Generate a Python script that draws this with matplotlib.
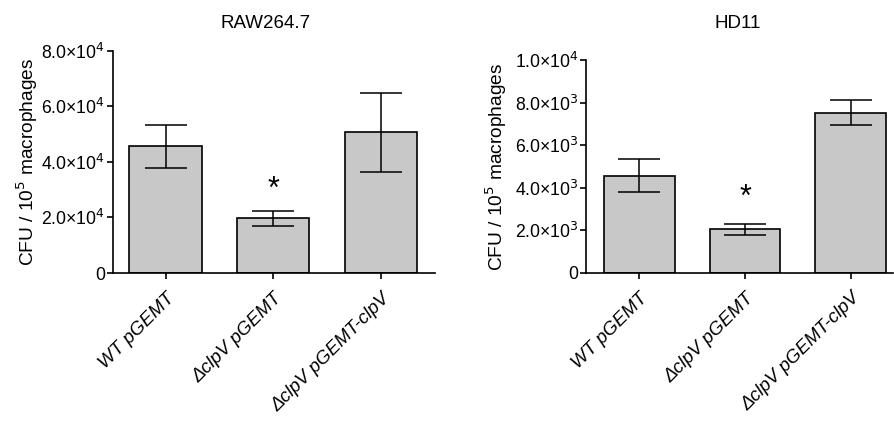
import numpy as np
import matplotlib.pyplot as plt

plt.rcParams["font.family"] = ["Liberation Sans", "DejaVu Sans"]

strains = ["WT pGEMT", "\u0394clpV pGEMT", "\u0394clpV pGEMT-clpV"]

raw_mean = [4.56e4, 1.97e4, 5.06e4]
raw_err = [0.77e4, 0.27e4, 1.43e4]

hd_mean = [4560, 2040, 7540]
hd_err = [770, 265, 570]

raw_ticks = [0, 2e4, 4e4, 6e4, 8e4]
raw_ticklabels = ["0", "2.0\u00d710$^4$", "4.0\u00d710$^4$", "6.0\u00d710$^4$", "8.0\u00d710$^4$"]
hd_ticks = [0, 2e3, 4e3, 6e3, 8e3, 1e4]
hd_ticklabels = ["0", "2.0\u00d710$^3$", "4.0\u00d710$^3$", "6.0\u00d710$^3$",
                 "8.0\u00d710$^3$", "1.0\u00d710$^4$"]


def draw_panel(ax, means, errs, ticks, ticklabels, title, star_y, xlim,
               title_x, title_pad, label_x):
    x = np.arange(len(strains))
    ax.bar(x, means, width=0.67, color="#c8c8c8", edgecolor="black", linewidth=1.2, zorder=2)
    ax.errorbar(x, means, yerr=errs, fmt="none", ecolor="black", elinewidth=1.1,
                capsize=15, capthick=1.1, zorder=3)
    ax.text(1, star_y, "*", ha="center", va="center", fontsize=22)
    ax.set_xlim(*xlim)
    ax.set_ylim(0, ticks[-1])
    ax.set_yticks(ticks)
    ax.set_yticklabels(ticklabels, fontsize=12.7)
    ax.set_xticks(x)
    ax.set_xticklabels(strains, rotation=45, ha="right", rotation_mode="anchor",
                       fontsize=13.5, style="italic")
    ax.set_ylabel("CFU / 10$^5$ macrophages", fontsize=13.8)
    ax.yaxis.set_label_coords(label_x, 0.5)
    ax.set_title(title, fontsize=13.5, x=title_x, pad=title_pad)
    for s in ["top", "right"]:
        ax.spines[s].set_visible(False)
    ax.spines["left"].set_linewidth(1.2)
    ax.spines["bottom"].set_linewidth(1.2)
    ax.tick_params(direction="out", length=4, width=1.2)
    ax.tick_params(axis="y", pad=1.5)
    ax.tick_params(axis="x", pad=8)


fig = plt.figure(figsize=(8.95, 4.21), dpi=100)
ax1 = fig.add_axes([0.126, 0.3515, 0.36, 0.528])
ax2 = fig.add_axes([0.655, 0.352, 0.343, 0.505])

draw_panel(ax1, raw_mean, raw_err, raw_ticks, raw_ticklabels, "RAW264.7", 3.0e4,
           (-0.49, 2.5), 0.474, 16.5, -0.227)
draw_panel(ax2, hd_mean, hd_err, hd_ticks, hd_ticklabels, "HD11", 3500,
           (-0.5, 2.4), 0.495, 23, -0.251)

fig.savefig("out.png", dpi=100)
